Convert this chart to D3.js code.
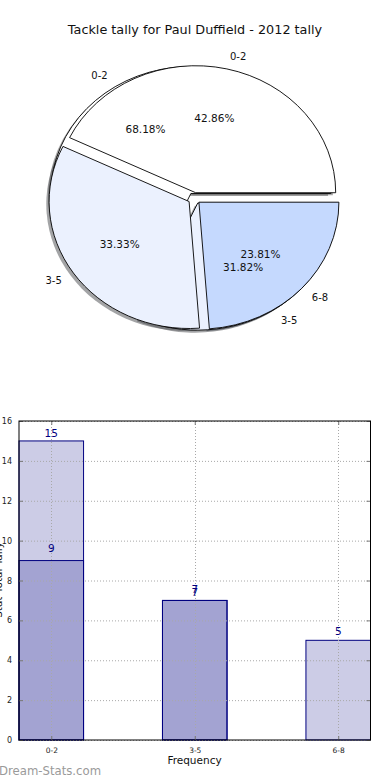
<!DOCTYPE html>
<html>
<head>
<meta charset="utf-8">
<script src="https://cdn.jsdelivr.net/npm/d3@7"></script>
<style>
  body { margin: 0; background: #fff; }
  text { font-family: "DejaVu Sans", sans-serif; }
</style>
</head>
<body>
<script>
// tally data
const categories = ["0-2", "3-5", "6-8"];
const tallyA = [9, 7, 5];      // top pie + first bar series
const tallyB = [15, 7];        // pie underneath + second bar series
const pieColors = ["#ffffff", "#ebf1fe", "#c5d9fe"];
const yTicks = [0, 2, 4, 6, 8, 10, 12, 14, 16];
const title = "Tackle tally for Paul Duffield - 2012 tally";

const W = 390, H = 780;
const svg = d3.select("body").append("svg").attr("width", W).attr("height", H);
svg.append("rect").attr("width", W).attr("height", H).attr("fill", "#fff");

// title
svg.append("text")
  .attr("x", 195).attr("y", 34)
  .attr("text-anchor", "middle")
  .attr("font-size", 12.8)
  .attr("fill", "#111")
  .text(title);

// ---- pie (matplotlib style: starts at 3 o'clock, counter clockwise, exploded, shadow) ----
const pcx = 194.3, pcy = 198.3, prx = 140, pry = 127, explode = 0.045;
const R = 100;
const pieGen = d3.pie().sort(null)
  .startAngle(Math.PI / 2)
  .endAngle(Math.PI / 2 - 2 * Math.PI);
const arc = d3.arc().innerRadius(0).outerRadius(R);

function wedges(values) {
  const total = d3.sum(values);
  return pieGen(values).map(function(d, i) {
    const mid = (d.startAngle + d.endAngle) / 2;
    return Object.assign({}, d, {
      i: i, mid: mid, pct: (d.value / total * 100).toFixed(2) + "%",
      dx: explode * R * Math.sin(mid), dy: -explode * R * Math.cos(mid)
    });
  });
}
const wedgesA = wedges(tallyA);
const wedgesB = wedges(tallyB);

const pieG = svg.append("g")
  .attr("transform", "translate(" + pcx + "," + pcy + ") scale(" + (prx / R) + "," + (pry / R) + ")");

// shadows under everything
pieG.selectAll("path.shadow")
  .data(wedgesB.concat(wedgesA))
  .enter().append("path")
  .attr("class", "shadow")
  .attr("d", arc)
  .attr("transform", d => "translate(" + (d.dx - 2) + "," + (d.dy + 2) + ")")
  .attr("fill", d => d3.color(pieColors[d.i]).darker(3.3))
  .attr("fill-opacity", 0.5);

function drawWedges(list, cls) {
  pieG.selectAll("path." + cls)
    .data(list)
    .enter().append("path")
    .attr("class", cls)
    .attr("d", arc)
    .attr("transform", d => "translate(" + d.dx + "," + d.dy + ")")
    .attr("fill", d => pieColors[d.i])
    .attr("stroke", "#000")
    .attr("stroke-width", 0.9)
    .attr("vector-effect", "non-scaling-stroke")
    .attr("stroke-linejoin", "round");
}
drawWedges(wedgesB, "wb");
drawWedges(wedgesA, "wa");

function pieLabels(list) {
  list.forEach(function(d) {
    const s = Math.sin(d.mid), c = Math.cos(d.mid);
    svg.append("text")
      .attr("x", pcx + (explode + 1.1) * prx * s)
      .attr("y", pcy - (explode + 1.1) * pry * c)
      .attr("dy", "0.35em")
      .attr("text-anchor", s > 0 ? "start" : "end")
      .attr("font-size", 10)
      .attr("fill", "#111")
      .text(categories[d.i]);
    svg.append("text")
      .attr("x", pcx + (explode + 0.6) * prx * s)
      .attr("y", pcy - (explode + 0.6) * pry * c)
      .attr("dy", "0.35em")
      .attr("text-anchor", "middle")
      .attr("font-size", 10.5)
      .attr("fill", "#111")
      .text(d.pct);
  });
}
pieLabels(wedgesB);
pieLabels(wedgesA);

// ---- bar chart ----
const bx0 = 19, bx1 = 370.5, by0 = 421, by1 = 740;
const x = d3.scaleLinear().domain([-0.225, 2.225]).range([bx0, bx1]);
const y = d3.scaleLinear().domain([0, 16]).range([by1, by0]);
const bw = 0.45;

const barG = svg.append("g");
function drawBars(values) {
  barG.selectAll(null)
    .data(values)
    .enter().append("rect")
    .attr("x", (d, i) => x(i - bw / 2))
    .attr("width", x(bw) - x(0))
    .attr("y", d => y(d))
    .attr("height", d => y(0) - y(d))
    .attr("fill", "#000080")
    .attr("fill-opacity", 0.2)
    .attr("stroke", "#000080")
    .attr("stroke-width", 1);
}
drawBars(tallyB);
drawBars(tallyA);

// grid (on top of bars)
const gridG = svg.append("g")
  .attr("stroke", "#a8a8a8")
  .attr("stroke-width", 1)
  .attr("stroke-dasharray", "1,2");
gridG.selectAll(null).data(yTicks).enter().append("line")
  .attr("x1", bx0).attr("x2", bx1)
  .attr("y1", d => y(d) + 0.5).attr("y2", d => y(d) + 0.5);
gridG.selectAll(null).data(categories).enter().append("line")
  .attr("x1", (d, i) => Math.round(x(i)) + 0.5).attr("x2", (d, i) => Math.round(x(i)) + 0.5)
  .attr("y1", by0).attr("y2", by1);

// bar value labels
function barLabels(values, lift) {
  svg.selectAll(null)
    .data(values)
    .enter().append("text")
    .attr("x", (d, i) => x(i))
    .attr("y", d => y(d * lift) - (lift === 1 ? 4 : 0))
    .attr("text-anchor", "middle")
    .attr("font-size", 10.5)
    .attr("fill", "#000080")
    .text(d => d);
}
barLabels(tallyB, 1);
barLabels(tallyA, 1.05);

// axes with inside ticks
const tickCol = "#777";
const axL = svg.append("g").attr("transform", "translate(" + bx0 + ",0)")
  .call(d3.axisLeft(y).tickValues(yTicks).tickSize(-4).tickPadding(7).tickFormat(d3.format("d")));
const axR = svg.append("g").attr("transform", "translate(" + bx1 + ",0)")
  .call(d3.axisRight(y).tickValues(yTicks).tickSize(-4).tickFormat(""));
const axB = svg.append("g").attr("transform", "translate(0," + by1 + ")")
  .call(d3.axisBottom(x).tickValues([0, 1, 2]).tickSize(-4).tickPadding(8).tickFormat((d, i) => categories[i]));
const axT = svg.append("g").attr("transform", "translate(0," + by0 + ")")
  .call(d3.axisTop(x).tickValues([0, 1, 2]).tickSize(-4).tickFormat(""));
[axL, axR, axB, axT].forEach(function(a) {
  a.select(".domain").remove();
  a.selectAll(".tick line").attr("stroke", tickCol);
  a.selectAll("text").attr("font-family", "DejaVu Sans").attr("fill", "#222");
});
axL.selectAll("text").attr("font-size", 8);
axB.selectAll("text").attr("font-size", 7.5);

// frame
svg.append("rect")
  .attr("x", bx0).attr("y", by0)
  .attr("width", bx1 - bx0).attr("height", by1 - by0)
  .attr("fill", "none").attr("stroke", "#000").attr("stroke-width", 1);

// axis labels
svg.append("text")
  .attr("x", 194.5).attr("y", 764)
  .attr("text-anchor", "middle")
  .attr("font-size", 10.5)
  .attr("fill", "#111")
  .text("Frequency");
svg.append("text")
  .attr("transform", "translate(2,580) rotate(-90)")
  .attr("text-anchor", "middle")
  .attr("font-size", 10.5)
  .attr("fill", "#111")
  .text("Stat Total Tally");

// watermark
svg.append("text")
  .attr("x", -1).attr("y", 775)
  .attr("font-size", 11.7)
  .attr("fill", "#9a9a9a")
  .text("Dream-Stats.com");
</script>
</body>
</html>
